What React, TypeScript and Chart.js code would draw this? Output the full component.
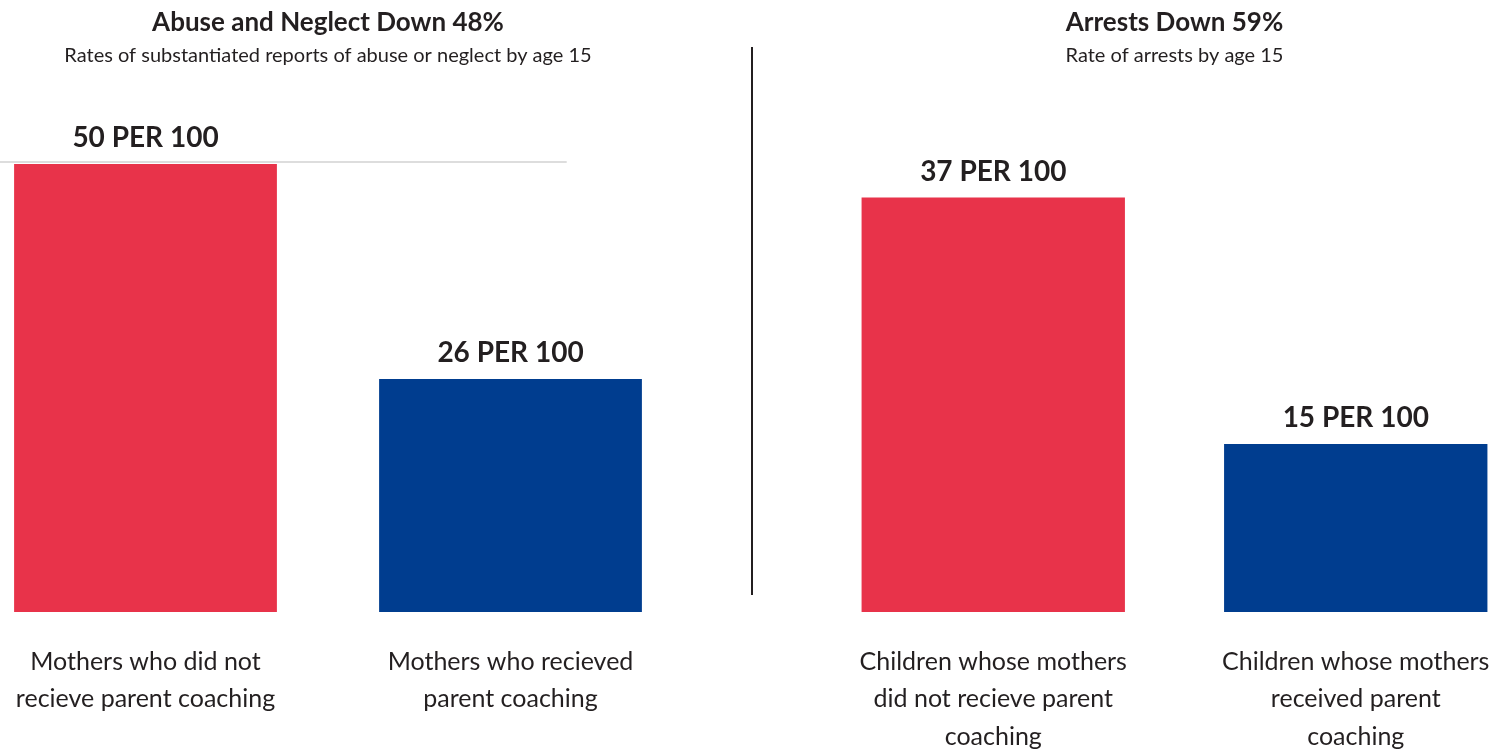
import React, { useEffect, useRef } from "react";
import { Chart, registerables } from "chart.js";

Chart.register(...registerables);

const FONT = "Lato, 'Open Sans', sans-serif";
const TEXT_COLOR = "#231F20";

const leftTitle = "Abuse and Neglect Down 48%";
const leftSubtitle = "Rates of substantiated reports of abuse or neglect by age 15";
const leftCategories = [
  ["Mothers who did not", "recieve parent coaching"],
  ["Mothers who recieved", "parent coaching"],
];
const leftValues = [50, 26];

const rightTitle = "Arrests Down 59%";
const rightSubtitle = "Rate of arrests by age 15";
const rightCategories = [
  ["Children whose mothers", "did not recieve parent", "coaching"],
  ["Children whose mothers", "received parent", "coaching"],
];
const rightValues = [37, 15];

const barColors = ["#E8334A", "#003D8F"];
const valueSuffix = " PER 100";

type PanelProps = {
  title: string;
  subtitle: string;
  categories: string[][];
  values: number[];
  yMax: number;
  barPercentage: number;
  topRule: boolean;
  left: number;
  width: number;
};

function BarPanel(props: PanelProps) {
  const ref = useRef<HTMLCanvasElement | null>(null);

  useEffect(() => {
    if (!ref.current) return;
    const valueLabels = {
      id: "valueLabels",
      afterDatasetsDraw(chart: any) {
        const ctx = chart.ctx;
        const meta = chart.getDatasetMeta(0);
        ctx.save();
        ctx.font = `bold 28px ${FONT}`;
        ctx.fillStyle = TEXT_COLOR;
        ctx.textAlign = "center";
        ctx.textBaseline = "middle";
        meta.data.forEach((el: any, i: number) => {
          ctx.fillText(props.values[i] + valueSuffix, el.x, el.y - 26);
        });
        ctx.restore();
      },
    };
    const topRulePlugin = {
      id: "topRule",
      beforeDatasetsDraw(chart: any) {
        if (!props.topRule) return;
        const { ctx, chartArea } = chart;
        const y = chart.scales.y.getPixelForValue(props.yMax) - 2;
        const w = chartArea.right - chartArea.left;
        ctx.save();
        ctx.strokeStyle = "#DDDDDD";
        ctx.lineWidth = 2;
        ctx.beginPath();
        ctx.moveTo(chartArea.left + w * 0.0507, y);
        ctx.lineTo(chartArea.left + w * 0.827, y);
        ctx.stroke();
        ctx.restore();
      },
    };
    const chart = new Chart(ref.current, {
      type: "bar",
      data: {
        labels: props.categories,
        datasets: [
          {
            data: props.values,
            backgroundColor: barColors,
            borderWidth: 0,
            barPercentage: props.barPercentage,
            categoryPercentage: 1,
          },
        ],
      },
      options: {
        animation: false,
        responsive: true,
        maintainAspectRatio: false,
        layout: { padding: 0 },
        plugins: {
          legend: { display: false },
          tooltip: { enabled: false },
          title: {
            display: true,
            text: props.title,
            color: TEXT_COLOR,
            font: { family: FONT, size: 26, weight: "bold", lineHeight: 1.2 },
            padding: { top: 7.4, bottom: 2 },
          },
          subtitle: {
            display: true,
            text: props.subtitle,
            color: TEXT_COLOR,
            font: { family: FONT, size: 20, weight: "normal", lineHeight: 1.2 },
            padding: { top: 3.4, bottom: 96 },
          },
        },
        scales: {
          x: {
            grid: { display: false, drawTicks: false },
            border: { display: false },
            ticks: {
              color: TEXT_COLOR,
              font: { family: FONT, size: 25, lineHeight: 1.5 },
              padding: 31,
              maxRotation: 0,
              autoSkip: false,
            },
            afterFit(scale: any) {
              scale.height = 141;
            },
          },
          y: {
            display: false,
            min: 0,
            max: props.yMax,
          },
        },
      },
      plugins: [valueLabels, topRulePlugin],
    });
    return () => chart.destroy();
  }, []);

  return (
    <div
      style={{
        position: "absolute",
        left: props.left,
        top: 0,
        width: props.width,
        height: 753,
      }}
    >
      <canvas ref={ref} />
    </div>
  );
}

export default function App() {
  return (
    <div
      style={{
        position: "fixed",
        left: 0,
        top: 0,
        width: 1512,
        height: 753,
        overflow: "hidden",
        background: "#FFFFFF",
      }}
    >
      <BarPanel
        title={leftTitle}
        subtitle={leftSubtitle}
        categories={leftCategories}
        values={leftValues}
        yMax={50}
        barPercentage={0.72}
        topRule={true}
        left={-37}
        width={730}
      />
      <BarPanel
        title={rightTitle}
        subtitle={rightSubtitle}
        categories={rightCategories}
        values={rightValues}
        yMax={40}
        barPercentage={0.7265}
        topRule={false}
        left={812}
        width={725}
      />
      <div
        style={{
          position: "absolute",
          left: 751,
          top: 47,
          width: 2,
          height: 548,
          background: "#231F20",
        }}
      />
    </div>
  );
}
